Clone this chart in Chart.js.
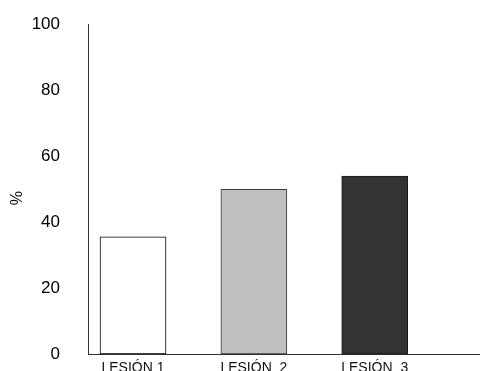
<!DOCTYPE html>
<html>
<head>
<meta charset="utf-8">
<script src="https://cdn.jsdelivr.net/npm/chart.js@4/dist/chart.umd.min.js"></script>
<style>
  html, body { margin: 0; padding: 0; width: 480px; height: 371px; overflow: hidden; background: #fff; }
  #wrap { width: 480px; height: 385px; }
</style>
</head>
<body>
<div id="wrap"><canvas id="c" width="480" height="385"></canvas></div>
<script>
// Percentage for each lesion
const categories = ['LESIÓN 1', 'LESIÓN  2', 'LESIÓN  3'];
const percentValues = [35.6, 50, 54];
const yTicks = [0, 20, 40, 60, 80, 100];
const yTitle = '%';

const fillColors = ['#ffffff', '#c0c0c0', '#333333'];
const edgeColors = ['#000000', '#3a3a3a', '#1a1a1a'];
const fontFamily = 'Liberation Sans, Arial, sans-serif';

const points = categories.map((c, i) => ({ x: i + 1, y: percentValues[i] }));

// Rotated "%" axis title, set a little below the middle of the axis
const yTitlePlugin = {
  id: 'yTitle',
  afterDraw(chart) {
    const { ctx, chartArea } = chart;
    ctx.save();
    ctx.translate(17.5, (chartArea.top + chartArea.bottom) / 2 + 9);
    ctx.rotate(-Math.PI / 2);
    ctx.fillStyle = '#111111';
    ctx.font = '16px ' + fontFamily;
    ctx.textAlign = 'center';
    ctx.textBaseline = 'middle';
    ctx.fillText(yTitle, 0, 0);
    ctx.restore();
  }
};

new Chart(document.getElementById('c'), {
  type: 'bar',
  data: {
    datasets: [{
      data: points,
      backgroundColor: fillColors,
      borderColor: edgeColors,
      borderWidth: 1,
      borderSkipped: false,
      barThickness: 66
    }]
  },
  plugins: [yTitlePlugin],
  options: {
    responsive: false,
    animation: false,
    layout: { padding: { top: 24, right: 0, bottom: 0, left: 0 } },
    plugins: { legend: { display: false }, tooltip: { enabled: false } },
    scales: {
      x: {
        type: 'linear',
        offset: false,
        min: 0.6276,
        max: 3.8713,
        grid: { display: false, drawTicks: false },
        border: { display: true, color: '#333333', width: 1 },
        afterBuildTicks: s => { s.ticks = categories.map((c, i) => ({ value: i + 1 })); },
        afterFit: s => { s.height = 30.5; },
        ticks: {
          autoSkip: false,
          maxRotation: 0,
          padding: 5,
          color: '#111111',
          font: { family: fontFamily, size: 14 },
          callback: v => categories[Math.round(v) - 1] || ''
        }
      },
      y: {
        min: 0,
        max: 100,
        grid: {
          display: true,
          drawOnChartArea: false,
          drawTicks: true,
          tickLength: 27,
          tickColor: 'rgba(0,0,0,0)'
        },
        border: { display: true, color: '#333333', width: 1 },
        afterBuildTicks: s => { s.ticks = yTicks.map(v => ({ value: v })); },
        afterFit: s => { s.width = 88; },
        ticks: {
          padding: 1,
          color: '#000000',
          font: { family: fontFamily, size: 17 }
        }
      }
    }
  }
});
</script>
</body>
</html>
